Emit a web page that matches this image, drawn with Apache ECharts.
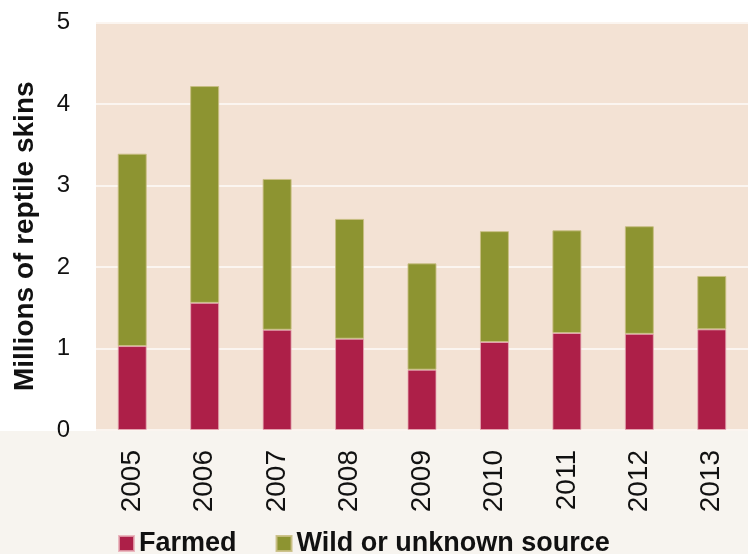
<!DOCTYPE html>
<html>
<head>
<meta charset="utf-8">
<script src="https://cdn.jsdelivr.net/npm/echarts@6/dist/echarts.min.js"></script>
<style>
html,body{margin:0;padding:0;background:#ffffff;}
#chart{width:748px;height:554px;}
</style>
</head>
<body>
<div id="chart"></div>
<script>
const years = ['2005','2006','2007','2008','2009','2010','2011','2012','2013'];
const farmed = [1.03, 1.56, 1.23, 1.12, 0.74, 1.08, 1.19, 1.18, 1.235];
const wild = [2.36, 2.66, 1.85, 1.47, 1.305, 1.36, 1.26, 1.32, 0.655];
const yTicks = [0, 1, 2, 3, 4, 5];

const chart = echarts.init(document.getElementById('chart'), null, {renderer: 'canvas'});
const font = '"Liberation Sans", Arial, sans-serif';
chart.setOption({
  backgroundColor: '#ffffff',
  animation: false,
  graphic: {
    elements: [{
      type: 'rect', z: -10, silent: true,
      shape: {x: 0, y: 431, width: 748, height: 123},
      style: {fill: '#f7f4ef'}
    }]
  },
  grid: {
    left: 96, right: 0, top: 22.5, bottom: 124,
    outerBoundsMode: 'none',
    containLabel: false,
    show: true, backgroundColor: '#f3e2d4', borderWidth: 0
  },
  legend: {
    left: 118, top: 530, padding: 0,
    itemWidth: 15, itemHeight: 15, itemGap: 39,
    icon: 'rect',
    textStyle: {fontFamily: font, fontSize: 27, fontWeight: 'bold', color: '#111'},
    data: ['Farmed', 'Wild or unknown source']
  },
  xAxis: {
    type: 'category',
    data: years,
    axisLine: {show: false},
    axisTick: {show: false},
    axisLabel: {rotate: 90, margin: 20, fontFamily: font, fontSize: 28, color: '#111'}
  },
  yAxis: {
    type: 'value',
    min: yTicks[0], max: yTicks[yTicks.length - 1], interval: 1,
    name: 'Millions of reptile skins',
    nameLocation: 'middle',
    nameGap: 57,
    nameTextStyle: {fontFamily: font, fontSize: 28, fontWeight: 'bold', color: '#111', padding: [0, 20, 0, 0]},
    axisLine: {show: false},
    axisTick: {show: false},
    axisLabel: {margin: 26, fontFamily: font, fontSize: 24, color: '#111'},
    splitLine: {lineStyle: {color: '#fbf5f0', width: 2}}
  },
  series: [
    {
      name: 'Farmed', type: 'bar', stack: 'a', data: farmed,
      barWidth: '40%',
      itemStyle: {color: '#ad1f48', borderColor: 'rgba(230,170,180,0.8)', borderWidth: 1}
    },
    {
      name: 'Wild or unknown source', type: 'bar', stack: 'a', data: wild,
      barWidth: '40%',
      itemStyle: {color: '#8d9431', borderColor: 'rgba(200,190,130,0.9)', borderWidth: 1}
    }
  ]
});
</script>
</body>
</html>
